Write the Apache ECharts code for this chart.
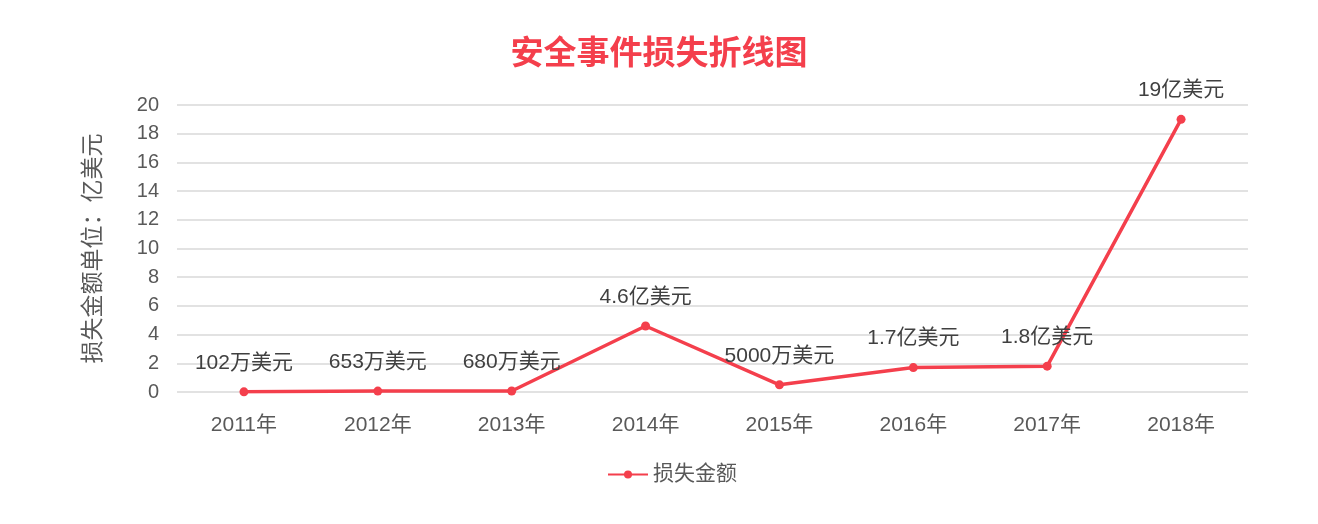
<!DOCTYPE html>
<html>
<head>
<meta charset="utf-8">
<script src="https://cdn.jsdelivr.net/npm/echarts@6/dist/echarts.min.js"></script>
<style>
  html, body { margin: 0; padding: 0; background: #fff; }
  #chart { width: 1318px; height: 524px; }
</style>
</head>
<body>
<div id="chart"></div>
<script>
// 年份 / 损失金额(亿美元) / 标签文字
const years = ["2011年", "2012年", "2013年", "2014年", "2015年", "2016年", "2017年", "2018年"];
const losses = [0.0102, 0.0653, 0.068, 4.6, 0.5, 1.7, 1.8, 19];
const lossLabels = ["102万美元", "653万美元", "680万美元", "4.6亿美元", "5000万美元", "1.7亿美元", "1.8亿美元", "19亿美元"];

const FONT = "'Liberation Sans', 'Noto Sans CJK SC', sans-serif";
const RED = "#f43f4c";

const chart = echarts.init(document.getElementById("chart"));
chart.setOption({
  animation: false,
  title: {
    text: "安全事件损失折线图",
    left: "center",
    top: 30,
    textStyle: { color: RED, fontSize: 33, fontWeight: "bold", fontFamily: "'Noto Sans CJK SC', sans-serif" }
  },
  legend: {
    bottom: 34,
    left: 602,
    itemWidth: 40,
    itemHeight: 10,
    itemGap: 4,
    textStyle: { fontSize: 21, color: "#595959", fontFamily: FONT },
    data: ["损失金额"]
  },
  grid: { left: 177, right: 70, top: 105, bottom: 132 },
  xAxis: {
    type: "category",
    data: years,
    axisLine: { show: false },
    axisTick: { show: false },
    axisLabel: { fontSize: 21, color: "#595959", margin: 23, fontFamily: FONT }
  },
  yAxis: {
    type: "value",
    min: 0,
    max: 20,
    interval: 2,
    name: "损失金额单位：亿美元",
    nameLocation: "middle",
    nameGap: 74,
    nameTextStyle: { fontSize: 23, color: "#595959", fontFamily: "'Noto Sans CJK SC', sans-serif" },
    axisLine: { show: false },
    axisTick: { show: false },
    axisLabel: { fontSize: 20, color: "#595959", margin: 18, fontFamily: FONT },
    splitLine: { lineStyle: { color: "#d9d9d9", width: 1.5 } }
  },
  series: [{
    name: "损失金额",
    type: "line",
    data: losses,
    symbol: "circle",
    symbolSize: 9,
    lineStyle: { color: RED, width: 3.5 },
    itemStyle: { color: RED },
    label: {
      show: true,
      position: "top",
      distance: 14,
      fontSize: 21,
      color: "#404040",
      fontFamily: FONT,
      formatter: p => lossLabels[p.dataIndex]
    }
  }]
});
</script>
</body>
</html>
